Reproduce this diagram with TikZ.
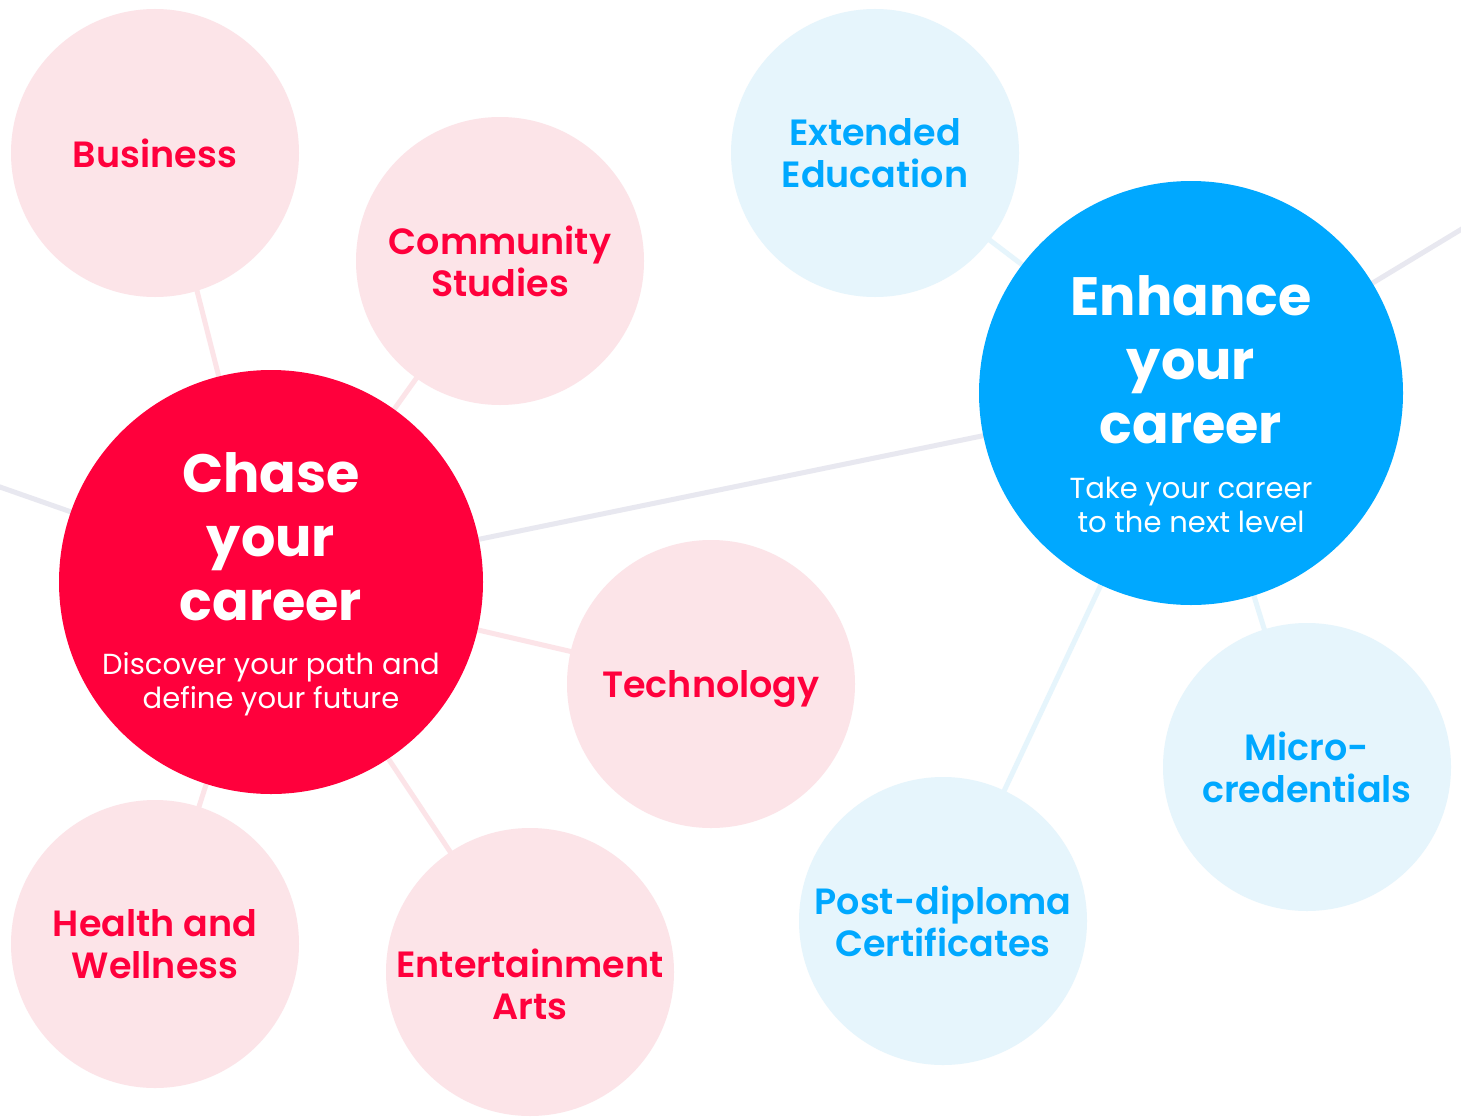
\documentclass[tikz,border=0pt]{standalone}
\usepackage{fontspec}
\setmainfont{Poppins}
\newfontfamily\psemi{Poppins SemiBold}
\definecolor{cred}{HTML}{FF003C}
\definecolor{cpink}{HTML}{FCE4E8}
\definecolor{cblue}{HTML}{00A8FF}
\definecolor{clblue}{HTML}{E6F5FC}
\definecolor{cgray}{HTML}{E8E8F0}
\pgfdeclarelayer{bg}
\pgfsetlayers{bg,main}
\begin{document}
\begin{tikzpicture}[x=1pt,y=-1pt,
  smallc/.style={circle, minimum size=288pt, inner sep=0pt, draw=none},
  bigc/.style={circle, minimum size=424pt, inner sep=0pt, draw=none},
  redc/.style={smallc, fill=cpink},
  bluec/.style={smallc, fill=clblue},
  lbl/.style={inner sep=0pt, align=center, text depth=0pt, font=\psemi\fontsize{36.5}{42}\selectfont},
  redlbl/.style={lbl, text=cred},
  bluelbl/.style={lbl, text=cblue},
  ttl/.style={inner sep=0pt, align=center, text=white, font=\bfseries\fontsize{54}{64}\selectfont},
  sub/.style={inner sep=0pt, align=center, text=white, font=\fontsize{29}{34}\selectfont},
  conn/.style={line width=5pt},
  pinkline/.style={conn, draw=cpink},
  blueline/.style={conn, draw=clblue},
  grayline/.style={conn, draw=cgray}]
\useasboundingbox (0,0) rectangle (1461,1116);

% circles
\node[redc] (bus) at (155,153) {};
\node[redc] (com) at (500,261) {};
\node[redc] (tec) at (711,684) {};
\node[redc] (hea) at (155,944) {};
\node[redc] (ent) at (530,972) {};
\node[bluec] (ext) at (875,153) {};
\node[bluec] (mic) at (1307,767) {};
\node[bluec] (pos) at (943,921) {};
\node[bigc, fill=cred] (cha) at (271,582) {};
\node[bigc, fill=cblue] (enh) at (1191,393) {};

\coordinate (lft) at (-20,480);
\coordinate (rgt) at (1480,218);
\coordinate (busc) at (162,153);

\begin{pgfonlayer}{bg}
\fill[white] (0,0) rectangle (1461,1116);
\draw[pinkline] (cha.center) -- (busc);
\draw[pinkline] (cha.center) -- (com.center);
\draw[pinkline] (cha.center) -- (tec.center);
\draw[pinkline] (cha.center) -- (hea.center);
\draw[pinkline] (cha.center) -- (ent.center);
\draw[grayline] (cha.center) -- (lft);
\draw[grayline] (cha.center) -- (enh.center);
\draw[grayline] (enh.center) -- (rgt);
\draw[blueline] (enh.center) -- (ext.center);
\draw[blueline] (enh.center) -- (mic.center);
\draw[blueline] (enh.center) -- (pos.center);
\end{pgfonlayer}

% labels
\node[redlbl] (busl) at (bus.center) {Business};
\node[redlbl] (coml) at (com.center) {Community\\Studies};
\node[redlbl] (tecl) at (tec.center) {Technology};
\node[redlbl] (heal) at (hea.center) {Health and\\Wellness};
\node[redlbl] (entl) at ([yshift=-12pt]ent.center) {Entertainment\\Arts};
\node[bluelbl] (extl) at (ext.center) {Extended\\Education};
\node[bluelbl] (micl) at (mic.center) {Micro-\\credentials};
\node[bluelbl] (posl) at (pos.center) {Post-diploma\\Certificates};

\node[ttl, anchor=base] (chat) at (271,620) {Chase\\your\\career};
\node[sub, anchor=base] (chas) at (271,708) {Discover your path and\\define your future};
\node[ttl, anchor=base] (enht) at (1191,443) {Enhance\\your\\career};
\node[sub, anchor=base] (enhs) at (1191,532) {Take your career\\to the next level};
\end{tikzpicture}
\end{document}
